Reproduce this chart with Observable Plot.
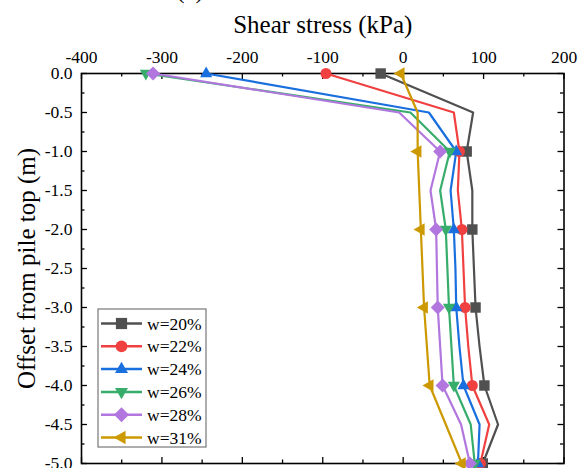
<!DOCTYPE html>
<html>
<head>
<meta charset="utf-8">
<script src="https://cdn.jsdelivr.net/npm/d3@7"></script>
<script src="https://cdn.jsdelivr.net/npm/@observablehq/plot@0.6"></script>
<style>
  html, body { margin: 0; padding: 0; background: white; }
  #chart { width: 588px; height: 468px; overflow: hidden; position: relative; }
  #chart svg, #chart svg text { font-family: "Liberation Serif", "Times New Roman", serif !important; }
</style>
</head>
<body>
<div id="chart"></div>
<script>
// ---- data ----
const depths = [0, -0.5, -1, -1.5, -2, -2.5, -3, -3.5, -4, -4.5, -5];
const seriesNames = ["w=20%", "w=22%", "w=24%", "w=26%", "w=28%", "w=31%"];
const w20 = [-28, 87, 79, 86, 86, 88, 90, 95, 101, 118, 99];
const w22 = [-96, 63, 70, 68, 73, 75, 77, 81, 86, 107, 96];
const w24 = [-245, 32, 66, 59, 63, 65, 66, 70, 75, 95, 93];
const w26 = [-320, 9, 58, 46, 53, 55, 57, 60, 63, 84, 89];
const w28 = [-311, -5, 46, 34, 41, 42, 43, 46, 49, 72, 83];
const w31 = [-3, 18, 18, 20, 22, 24, 26, 29.5, 33, 53, 73];
const xTicks = [-400, -300, -200, -100, 0, 100, 200];
const xMinorTicks = [-350, -250, -150, -50, 50, 150];
const yTicks = [0, -0.5, -1, -1.5, -2, -2.5, -3, -3.5, -4, -4.5, -5];
const yMinorTicks = [-0.25, -0.75, -1.25, -1.75, -2.25, -2.75, -3.25, -3.75, -4.25, -4.75];
const xLabel = "Shear stress (kPa)";
const yLabel = "Offset from pile top (m)";

// ---- styles ----
const colors = ["#505050", "#F14040", "#1A6FDF", "#37AD6B", "#B177DE", "#CC9900"];
const rad = s => Math.sqrt(s / Math.PI);
const symSquare = { draw(c, s) { const r = rad(s) * 0.95; c.moveTo(-r, -r); c.lineTo(r, -r); c.lineTo(r, r); c.lineTo(-r, r); c.closePath(); } };
const symCircle = { draw(c, s) { const r = rad(s); c.moveTo(r, 0); c.arc(0, 0, r, 0, 2 * Math.PI); c.closePath(); } };
const symUp = { draw(c, s) { const r = rad(s) * 1.1; c.moveTo(0, -r * 1.15); c.lineTo(r, r * 0.6); c.lineTo(-r, r * 0.6); c.closePath(); } };
const symDown = { draw(c, s) { const r = rad(s) * 1.1; c.moveTo(0, r * 1.15); c.lineTo(r, -r * 0.6); c.lineTo(-r, -r * 0.6); c.closePath(); } };
const symDiamond = { draw(c, s) { const r = rad(s) * 1.27; c.moveTo(0, -r); c.lineTo(r, 0); c.lineTo(0, r); c.lineTo(-r, 0); c.closePath(); } };
const symLeft = { draw(c, s) { const r = rad(s) * 1.15; c.moveTo(-r * 1.15, 0); c.lineTo(r * 0.6, -r); c.lineTo(r * 0.6, r); c.closePath(); } };
const symbols = [symSquare, symCircle, symUp, symDown, symDiamond, symLeft];

const values = [w20, w22, w24, w26, w28, w31];
const rows = [];
values.forEach((arr, i) => arr.forEach((v, j) => rows.push({ series: seriesNames[i], depth: depths[j], stress: v })));
const markerRows = rows.filter(d => Number.isInteger(d.depth));

const W = 588, H = 468, mT = 73, mB = 5, mL = 81, mR = 24.5;
const fw = W - mL - mR, fh = H - mT - mB;
const R = 5.5;

const svg = Plot.plot({
  width: W, height: H,
  marginTop: mT, marginBottom: mB, marginLeft: mL, marginRight: mR,
  style: { fontFamily: "Liberation Serif", fontSize: "17.5px", color: "black", background: "white" },
  x: { domain: [-400, 200] },
  y: { domain: [-5, 0] },
  color: { domain: seriesNames, range: colors },
  symbol: { domain: seriesNames, range: symbols },
  marks: [
    Plot.axisX(xTicks, { anchor: "top", tickSize: 0, tickPadding: 11, tickFormat: d => String(d), label: null, fontSize: 17.5 }),
    Plot.axisY(yTicks, { anchor: "left", tickSize: 0, tickPadding: 9, tickFormat: d => d.toFixed(1), label: null, fontSize: 17.5 }),
    // inward ticks
    Plot.ruleX(xTicks, { x: d => d, insetBottom: fh - 6, stroke: "black", strokeWidth: 1.3 }),
    Plot.ruleX(xMinorTicks, { x: d => d, insetBottom: fh - 3.5, stroke: "black", strokeWidth: 1.3 }),
    Plot.ruleX(xTicks, { x: d => d, insetTop: fh - 6, stroke: "black", strokeWidth: 1.3 }),
    Plot.ruleX(xMinorTicks, { x: d => d, insetTop: fh - 3.5, stroke: "black", strokeWidth: 1.3 }),
    Plot.ruleY(yTicks, { y: d => d, insetRight: fw - 6, stroke: "black", strokeWidth: 1.3 }),
    Plot.ruleY(yMinorTicks, { y: d => d, insetRight: fw - 3.5, stroke: "black", strokeWidth: 1.3 }),
    Plot.ruleY(yTicks, { y: d => d, insetLeft: fw - 6, stroke: "black", strokeWidth: 1.3 }),
    Plot.ruleY(yMinorTicks, { y: d => d, insetLeft: fw - 3.5, stroke: "black", strokeWidth: 1.3 }),
    Plot.frame({ stroke: "black", strokeWidth: 1.6 }),
    Plot.line(rows, { x: "stress", y: "depth", z: "series", stroke: "series", strokeWidth: 2.2 }),
    Plot.dot(markerRows, { x: "stress", y: "depth", symbol: "series", fill: "series", r: R }),
    Plot.text([xLabel], { frameAnchor: "top", textAnchor: "middle", lineAnchor: "middle", dy: -49, fontSize: 25 }),
    Plot.text([yLabel], { frameAnchor: "left", textAnchor: "middle", lineAnchor: "middle", dx: -55, rotate: -90, fontSize: 25 })
  ]
});

// legend
const g = d3.select(svg).append("g").attr("class", "legend");
const lx = 98, ly = 309, lw = 108, lh = 138, rowH = 22.8, firstY = 323.5;
g.append("rect").attr("x", lx).attr("y", ly).attr("width", lw).attr("height", lh)
  .attr("fill", "white").attr("stroke", "#777").attr("stroke-width", 1.2);
seriesNames.forEach((name, i) => {
  const cy = firstY + i * rowH;
  g.append("line").attr("x1", 101).attr("x2", 142).attr("y1", cy).attr("y2", cy)
    .attr("stroke", colors[i]).attr("stroke-width", 2.5);
  const p = d3.path();
  symbols[i].draw(p, Math.PI * R * R * 1.15);
  g.append("path").attr("d", p.toString()).attr("transform", `translate(121.5,${cy})`).attr("fill", colors[i]);
  g.append("text").attr("x", 147).attr("y", cy).attr("dy", "0.35em").attr("text-anchor", "start")
    .attr("font-size", 17.5).attr("fill", "black").text(name);
});
// partial panel tag at the very top
d3.select(svg).append("text").attr("x", 190).attr("y", -2).attr("text-anchor", "middle")
  .attr("font-size", 25).text("(a)");

document.getElementById("chart").appendChild(svg);
</script>
</body>
</html>
